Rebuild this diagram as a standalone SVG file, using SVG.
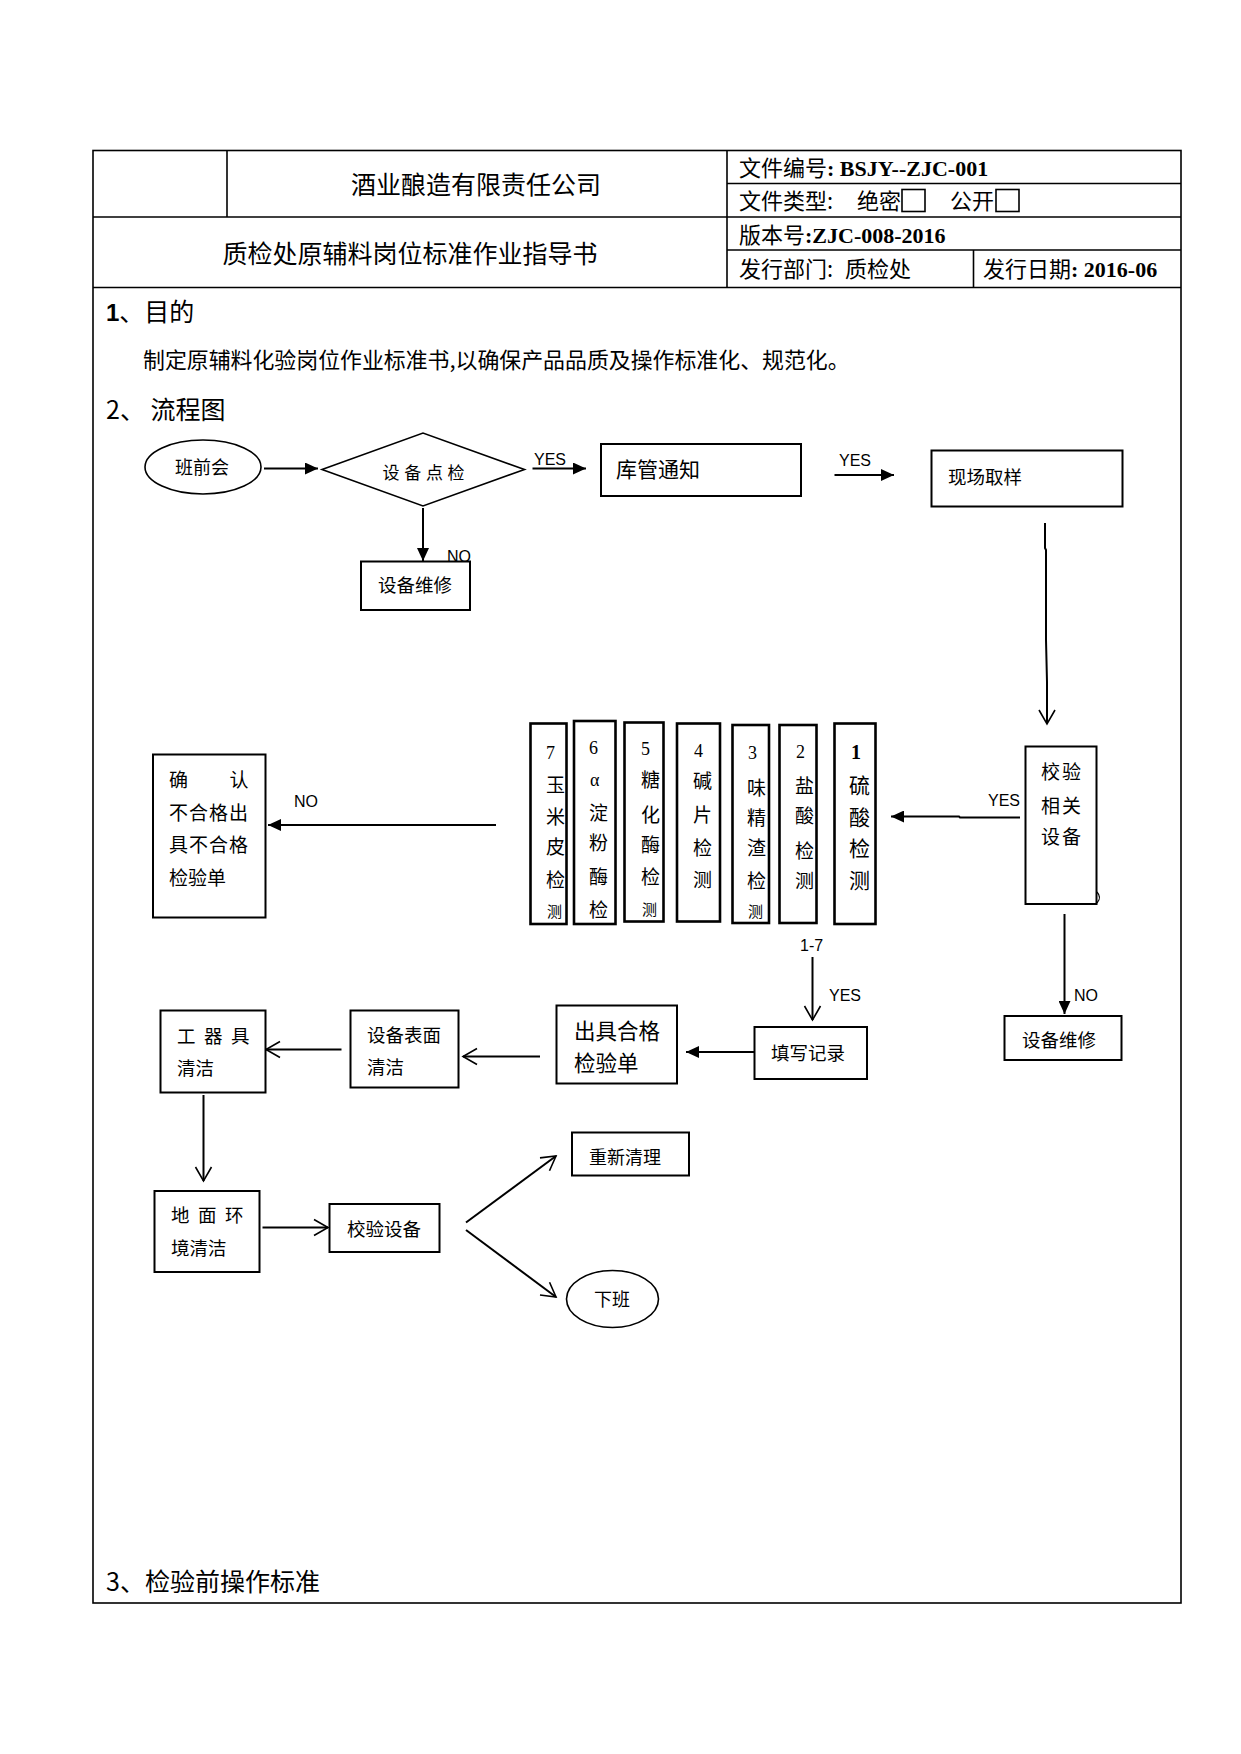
<svg xmlns="http://www.w3.org/2000/svg" width="1241" height="1754" viewBox="0 0 1241 1754">
<style>
.cjk{font-family:"Noto Sans CJK SC","Noto Sans CJK JP",sans-serif;fill:#000}
.lat{font-family:"Liberation Sans","Noto Sans CJK SC",sans-serif;fill:#000}
.ser{font-family:"Liberation Serif","Noto Sans CJK SC",serif;fill:#000}
.tbl{fill:none;stroke:#000;stroke-width:1.6}
.box{fill:#fff;stroke:#000;stroke-width:2}
.tbox{fill:#fff;stroke:#000;stroke-width:2.6}
.conn{fill:none;stroke:#000;stroke-width:2}
.fa{marker-end:url(#fa)}
.oa{marker-end:url(#oa)}
</style>
<defs>
<marker id="fa" markerUnits="userSpaceOnUse" markerWidth="13" markerHeight="12" refX="13" refY="6" orient="auto"><path d="M0,0 L13,6 L0,12 z" fill="#000"/></marker>
<marker id="oa" markerUnits="userSpaceOnUse" markerWidth="16" markerHeight="18" refX="15" refY="9" orient="auto" overflow="visible"><path d="M1,1 L15,9 L1,17" fill="none" stroke="#000" stroke-width="1.6"/></marker>
<clipPath id="c7"><rect x="531" y="724" width="35" height="199"/></clipPath>
<clipPath id="c6"><rect x="575" y="722" width="40" height="201"/></clipPath>
<clipPath id="c5"><rect x="625" y="723" width="38" height="198"/></clipPath>
<clipPath id="c4"><rect x="678" y="724" width="42" height="197"/></clipPath>
<clipPath id="c3"><rect x="733" y="726" width="35" height="196"/></clipPath>
<clipPath id="c2"><rect x="780" y="726" width="36" height="196"/></clipPath>
<clipPath id="c1"><rect x="835" y="724" width="40" height="199"/></clipPath>
</defs>
<rect width="1241" height="1754" fill="#fff"/>

<g id="table">
<rect class="tbl" x="93" y="150.5" width="1088" height="1452.5"/>
<line class="tbl" x1="227" y1="150.5" x2="227" y2="217"/>
<line class="tbl" x1="727" y1="150.5" x2="727" y2="287.5"/>
<line class="tbl" x1="93" y1="217" x2="1181" y2="217"/>
<line class="tbl" x1="727" y1="183.5" x2="1181" y2="183.5"/>
<line class="tbl" x1="727" y1="250" x2="1181" y2="250"/>
<line class="tbl" x1="93" y1="287.5" x2="1181" y2="287.5"/>
<line class="tbl" x1="973.5" y1="250" x2="973.5" y2="287.5"/>
<text class="cjk" x="476" y="193.5" font-size="25" text-anchor="middle">酒业酿造有限责任公司</text>
<text class="cjk" x="410" y="262.5" font-size="25" text-anchor="middle">质检处原辅料岗位标准作业指导书</text>
<text class="cjk" x="739" y="176" font-size="22">文件编号<tspan class="ser" font-weight="bold">: BSJY--ZJC-001</tspan></text>
<text class="cjk" x="739" y="209" font-size="22">文件类型:</text>
<text class="cjk" x="857" y="209" font-size="22">绝密</text>
<rect x="902" y="189.5" width="23" height="22" fill="none" stroke="#000" stroke-width="1.6"/>
<text class="cjk" x="950" y="209" font-size="22">公开</text>
<rect x="996" y="189.5" width="23" height="22" fill="none" stroke="#000" stroke-width="1.6"/>
<text class="cjk" x="739" y="243" font-size="22">版本号<tspan class="ser" font-weight="bold">:ZJC-008-2016</tspan></text>
<text class="cjk" x="739" y="277" font-size="22">发行部门:</text>
<text class="cjk" x="845" y="277" font-size="22">质检处</text>
<text class="cjk" x="983" y="277" font-size="22">发行日期<tspan class="ser" font-weight="bold">: 2016-06</tspan></text>
<text class="cjk" x="106" y="321" font-size="25"><tspan class="lat" font-weight="bold" font-size="24">1</tspan>、目的</text>
<text class="cjk" x="143" y="368" font-size="21.9">制定原辅料化验岗位作业标准书,以确保产品品质及操作标准化、规范化。</text>
<text class="cjk" x="106" y="419" font-size="25">2、 流程图</text>
<text class="cjk" x="106" y="1591" font-size="25">3、检验前操作标准</text>
</g>

<g id="connectors">
<line class="conn fa" x1="264" y1="468.5" x2="318" y2="468.5"/>
<line class="conn fa" x1="532.5" y1="468.5" x2="586" y2="468.5"/>
<text class="lat" x="534" y="465" font-size="16">YES</text>
<line class="conn fa" x1="423" y1="508" x2="423" y2="561"/>
<text class="lat" x="447" y="562" font-size="16">NO</text>
<line class="conn fa" x1="834.5" y1="475" x2="894" y2="475"/>
<text class="lat" x="839" y="466" font-size="16">YES</text>
<path class="conn oa" d="M1045,523 L1045,548 L1046,550 L1046,640 L1047,682 L1047,724"/>
<path class="conn fa" d="M1020,817.5 L960,817.5 L959,816.5 L891,816.5"/>
<text class="lat" x="988" y="806" font-size="16">YES</text>
<line class="conn fa" x1="496" y1="825" x2="268" y2="825"/>
<text class="lat" x="294" y="807" font-size="16">NO</text>
<line class="conn fa" x1="1064.5" y1="914" x2="1064.5" y2="1014"/>
<text class="lat" x="1074" y="1001" font-size="16">NO</text>
<text class="lat" x="800" y="951" font-size="16">1-7</text>
<line class="conn oa" x1="812.5" y1="957" x2="812.5" y2="1020"/>
<text class="lat" x="829" y="1001" font-size="16">YES</text>
<line class="conn fa" x1="754" y1="1052" x2="686" y2="1052"/>
<line class="conn oa" x1="540" y1="1056.5" x2="463" y2="1056.5"/>
<line class="conn oa" x1="341.5" y1="1049.5" x2="266" y2="1049.5"/>
<line class="conn oa" x1="203.5" y1="1095" x2="203.5" y2="1181"/>
<line class="conn oa" x1="262.5" y1="1227.5" x2="328" y2="1227.5"/>
<line class="conn oa" x1="466" y1="1222.5" x2="556" y2="1156"/>
<line class="conn oa" x1="466" y1="1230" x2="556" y2="1297"/>
</g>

<g id="n-banqianhui">
<ellipse cx="203" cy="467" rx="58" ry="27" fill="#fff" stroke="#000" stroke-width="1.6"/>
<text class="cjk" x="202" y="474" font-size="18" text-anchor="middle">班前会</text>
</g>
<g id="n-shebeidianjian">
<polygon points="322,469.5 423,433 524.5,469.5 423,506" fill="#fff" stroke="#000" stroke-width="1.6"/>
<text class="cjk" y="479" font-size="17" x="382.5 404.2 425.9 447.6">设备点检</text>
</g>
<g id="n-kuguan">
<rect class="box" x="601" y="444" width="200" height="52"/>
<text class="cjk" x="616" y="477" font-size="21">库管通知</text>
</g>
<g id="n-xianchang">
<rect class="box" x="931.5" y="450.5" width="191" height="56"/>
<text class="cjk" x="948" y="484" font-size="18.5">现场取样</text>
</g>
<g id="n-weixiu1">
<rect class="box" x="361" y="561.5" width="109" height="48.5"/>
<text class="cjk" x="378" y="592" font-size="18.5">设备维修</text>
</g>
<g id="n-jiaoyan">
<rect class="box" x="1025.5" y="746.5" width="71" height="157.5"/>
<text class="cjk" x="1041" y="779" font-size="19" letter-spacing="2">校验</text>
<text class="cjk" x="1041" y="813" font-size="19" letter-spacing="2">相关</text>
<text class="cjk" x="1041" y="844" font-size="19" letter-spacing="2">设备</text>
<path d="M1097,892 Q1102,897.5 1097,903" fill="none" stroke="#000" stroke-width="1.2"/>
</g>
<g id="n-test1">
<rect class="tbox" x="834.5" y="723.5" width="41" height="200.5"/>
<g clip-path="url(#c1)">
<text class="ser" x="851" y="759" font-size="20" font-weight="bold">1</text>
<text class="cjk" font-size="21" x="849"><tspan x="849" y="793">硫</tspan><tspan x="849" y="825">酸</tspan><tspan x="849" y="856">检</tspan><tspan x="849" y="888">测</tspan></text>
</g>
</g>
<g id="n-test2">
<rect class="tbox" x="779.5" y="725" width="37" height="198"/>
<g clip-path="url(#c2)">
<text class="ser" x="796" y="758" font-size="18">2</text>
<text class="cjk" font-size="19"><tspan x="795" y="793">盐</tspan><tspan x="795" y="823">酸</tspan><tspan x="795" y="858">检</tspan><tspan x="795" y="888">测</tspan></text>
</g>
</g>
<g id="n-test3">
<rect class="tbox" x="732.5" y="725" width="36.5" height="198"/>
<g clip-path="url(#c3)">
<text class="ser" x="748" y="759" font-size="18">3</text>
<text class="cjk" font-size="19"><tspan x="747" y="795">味</tspan><tspan x="747" y="825">精</tspan><tspan x="747" y="855">渣</tspan><tspan x="747" y="888">检</tspan></text>
<text class="cjk" x="748" y="917" font-size="15">测</text>
</g>
</g>
<g id="n-test4">
<rect class="tbox" x="677" y="723.5" width="43" height="198"/>
<g clip-path="url(#c4)">
<text class="ser" x="694" y="757" font-size="18">4</text>
<text class="cjk" font-size="19"><tspan x="693" y="788">碱</tspan><tspan x="693" y="822">片</tspan><tspan x="693" y="855">检</tspan><tspan x="693" y="887">测</tspan></text>
</g>
</g>
<g id="n-test5">
<rect class="tbox" x="624.5" y="722.5" width="39" height="199"/>
<g clip-path="url(#c5)">
<text class="ser" x="641" y="755" font-size="18">5</text>
<text class="cjk" font-size="19"><tspan x="641" y="787">糖</tspan><tspan x="641" y="822">化</tspan><tspan x="641" y="852">酶</tspan><tspan x="641" y="884">检</tspan></text>
<text class="cjk" x="642" y="915" font-size="15">测</text>
</g>
</g>
<g id="n-test6">
<rect class="tbox" x="574" y="721" width="41.5" height="203"/>
<g clip-path="url(#c6)">
<text class="ser" x="589" y="754" font-size="18">6</text>
<text class="ser" x="590" y="786" font-size="18">α</text>
<text class="cjk" font-size="19"><tspan x="589" y="820">淀</tspan><tspan x="589" y="850">粉</tspan><tspan x="589" y="884">酶</tspan><tspan x="589" y="917">检</tspan></text>
</g>
</g>
<g id="n-test7">
<rect class="tbox" x="530.5" y="723.5" width="36" height="200.5"/>
<g clip-path="url(#c7)">
<text class="ser" x="546" y="759" font-size="18">7</text>
<text class="cjk" font-size="19"><tspan x="546" y="792">玉</tspan><tspan x="546" y="824">米</tspan><tspan x="546" y="854">皮</tspan><tspan x="546" y="887">检</tspan></text>
<text class="cjk" x="547" y="917" font-size="15">测</text>
</g>
</g>
<g id="n-queren">
<rect class="box" x="153" y="754.5" width="112.5" height="163"/>
<text class="cjk" x="169" y="787" font-size="19">确</text>
<text class="cjk" x="229.5" y="787" font-size="19">认</text>
<text class="cjk" x="169" y="819.5" font-size="19" letter-spacing="1">不合格出</text>
<text class="cjk" x="169" y="852" font-size="19" letter-spacing="1">具不合格</text>
<text class="cjk" x="169" y="884.5" font-size="19">检验单</text>
</g>
<g id="n-weixiu2">
<rect class="box" x="1004.5" y="1016" width="117" height="44"/>
<text class="cjk" x="1022" y="1047" font-size="18.5">设备维修</text>
</g>
<g id="n-tianxie">
<rect class="box" x="754.5" y="1027" width="112.5" height="52"/>
<text class="cjk" x="771" y="1060" font-size="18.5">填写记录</text>
</g>
<g id="n-chuju">
<rect class="box" x="556.5" y="1005.5" width="120.5" height="78"/>
<text class="cjk" x="574" y="1038.5" font-size="21.5">出具合格</text>
<text class="cjk" x="574" y="1071" font-size="21.5">检验单</text>
</g>
<g id="n-biaomian">
<rect class="box" x="350.5" y="1010.5" width="108" height="77"/>
<text class="cjk" x="367" y="1042" font-size="18.5">设备表面</text>
<text class="cjk" x="367" y="1074" font-size="18.5">清洁</text>
</g>
<g id="n-gongqiju">
<rect class="box" x="160.5" y="1010.5" width="105" height="82"/>
<text class="cjk" y="1043" font-size="18.5" x="177 204 231">工器具</text>
<text class="cjk" x="177" y="1074.5" font-size="18.5">清洁</text>
</g>
<g id="n-dimian">
<rect class="box" x="154.5" y="1191" width="105" height="81"/>
<text class="cjk" y="1222" font-size="18.5" x="171 198 225">地面环</text>
<text class="cjk" x="171" y="1254.5" font-size="18.5">境清洁</text>
</g>
<g id="n-jiaoyanshebei">
<rect class="box" x="329.5" y="1204" width="110" height="48"/>
<text class="cjk" x="347" y="1235.5" font-size="18.5">校验设备</text>
</g>
<g id="n-chongxin">
<rect class="box" x="572" y="1132.5" width="117" height="43"/>
<text class="cjk" x="589" y="1163.5" font-size="18">重新清理</text>
</g>
<g id="n-xiaban">
<ellipse cx="612.5" cy="1299" rx="46" ry="28.5" fill="#fff" stroke="#000" stroke-width="1.6"/>
<text class="cjk" x="612" y="1306" font-size="18" text-anchor="middle">下班</text>
</g>
</svg>
